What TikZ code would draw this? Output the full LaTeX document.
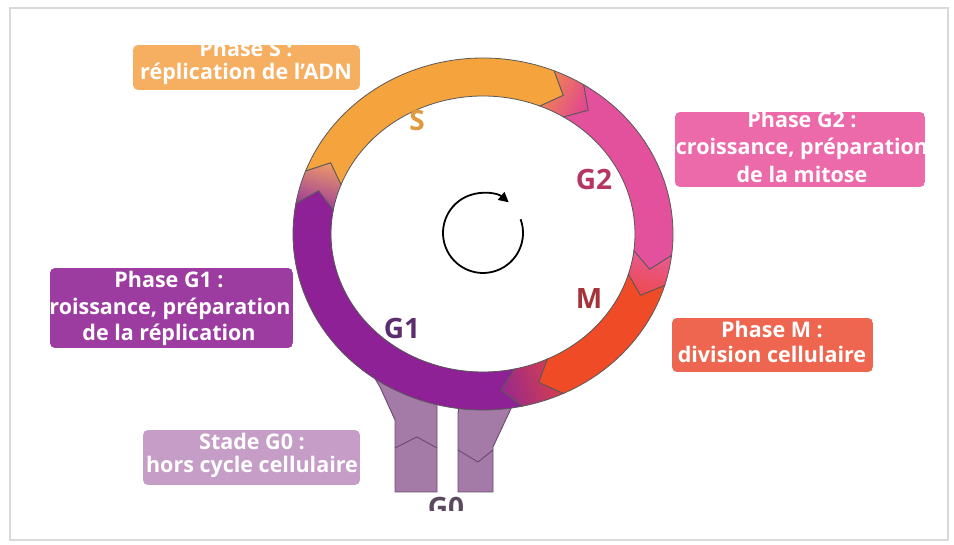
\documentclass[tikz,border=0pt]{standalone}
\usepackage{fontspec}
\setmainfont{Open Sans}
\usetikzlibrary{arrows.meta}
\definecolor{purpleG1}{HTML}{8E2195}
\definecolor{orangeS}{HTML}{F5A33C}
\definecolor{pinkG2}{HTML}{E3509C}
\definecolor{redM}{HTML}{EE4B26}
\definecolor{boxS}{HTML}{F6AE60}
\definecolor{boxGtwo}{HTML}{EC6AAA}
\definecolor{boxGone}{HTML}{9C3CA0}
\definecolor{boxM}{HTML}{EE6650}
\definecolor{boxGzero}{HTML}{C59DC6}
\definecolor{legfill}{HTML}{A47AA6}
\definecolor{legline}{HTML}{6A4A6E}
\definecolor{txtS}{HTML}{DE9A3E}
\definecolor{txtGtwo}{HTML}{B53663}
\definecolor{txtM}{HTML}{A3343A}
\definecolor{txtGone}{HTML}{5B2D6E}
\definecolor{txtGzero}{HTML}{5B4A5E}
\definecolor{trGone}{HTML}{9A3A9A}
\definecolor{trS}{HTML}{E8966A}
\definecolor{trSb}{HTML}{F08A4E}
\definecolor{trGtwo}{HTML}{E2488E}
\definecolor{trGtwob}{HTML}{E65A95}
\definecolor{trM}{HTML}{EE4A50}
\definecolor{trMb}{HTML}{D8404A}
\definecolor{trGoneb}{HTML}{9A2A8A}
\def\cx{483}
\def\cy{311}
\newcommand{\ringseg}[3]{%
  \path[#3] ({\cx+190*cos(#1)},{\cy+176*sin(#1)})
    arc[start angle=#1, end angle=#2, x radius=190, y radius=176]
    -- ({\cx+171*cos(#2-6)},{\cy+157*sin(#2-6)})
    -- ({\cx+152*cos(#2)},{\cy+138*sin(#2)})
    arc[start angle=#2, end angle=#1, x radius=152, y radius=138]
    -- ({\cx+171*cos(#1-6)},{\cy+157*sin(#1-6)}) -- cycle;}
\tikzset{
  ringline/.style={draw=black!65, line width=0.8pt},
  boxtext/.style={text=white, font=\bfseries\fontsize{21.5}{25}\selectfont, anchor=base, inner sep=0pt},
  phaselabel/.style={font=\bfseries\fontsize{28}{32}\selectfont, inner sep=0pt},
  leg/.style={fill=legfill, draw=legline, line width=0.9pt},
  zig/.style={draw=legline, line width=0.9pt},
}
\begin{document}
\begin{tikzpicture}[x=1pt,y=1pt]
\useasboundingbox (0,0) rectangle (954,545);
\fill[white] (0,0) rectangle (954,545);
\draw[black!15, line width=2.5pt] (10,5) rectangle (948,537);

% G0 legs (behind ring)
\path[leg] (368,178) -- (380,158) -- (395,125) -- (395,53) -- (437,53) -- (437,165) -- cycle;
\path[leg] (463,160) -- (458,132) -- (458,53) -- (493,53) -- (493,98) -- (522,160) -- cycle;
\draw[zig] (395,97) -- (417,108) -- (437,97);
\draw[zig] (458,95) -- (478,83) -- (493,95);

% ring segments
\ringseg{-78}{-190}{ringline, fill=purpleG1}
\ringseg{-190}{-201}{ringline, top color=trS, bottom color=trGone, shading angle=-15.5}
\ringseg{159}{68}{ringline, fill=orangeS}
\ringseg{68}{58}{ringline, top color=trGtwo, bottom color=trSb, shading angle=243}
\ringseg{58}{-7}{ringline, fill=pinkG2}
\ringseg{-7}{-17}{ringline, top color=trM, bottom color=trGtwob, shading angle=168}
\ringseg{-17}{-65}{ringline, fill=redM}
\ringseg{-65}{-78}{ringline, top color=trGoneb, bottom color=trMb, shading angle=108.5}

% phase letters on ring
\node[phaselabel, text=txtS] (lS) at (417,424) {S};
\node[phaselabel, text=txtGtwo] (lG2) at (594,365) {G2};
\node[phaselabel, text=txtM] (lM) at (589,246) {M};
\node[phaselabel, text=txtGone] (lG1) at (402,216) {G1};

% central circular arrow
\draw[line width=1.8pt, -{Triangle[length=10pt,width=10pt]}] (520.6,325.7) arc[start angle=20, end angle=-310, radius=40];

% G0 label (cut)
\begin{scope}
\clip (400,34) rectangle (500,60);
\node[phaselabel, text=txtGzero, anchor=base] (lG0) at (446,27) {G0};
\end{scope}

% box S
\begin{scope}
\clip[rounded corners=5pt] (133,455) rectangle (360,500);
\fill[boxS] (133,455) rectangle (360,500);
\node[boxtext] (s1) at (246,488) {Phase S :};
\node[boxtext] (s2) at (246,465) {réplication de l’ADN};
\end{scope}

% box G2
\begin{scope}
\clip[rounded corners=5pt] (675,358) rectangle (925,433);
\fill[boxGtwo] (675,358) rectangle (925,433);
\node[boxtext] (g21) at (802,417) {Phase G2 :};
\node[boxtext] (g22) at (802,390) {croissance, préparation};
\node[boxtext] (g23) at (802,362) {de la mitose};
\end{scope}

% box G1
\begin{scope}
\clip[rounded corners=5pt] (50,197) rectangle (293,277);
\fill[boxGone] (50,197) rectangle (293,277);
\node[boxtext] (g11) at (169,257) {Phase G1 :};
\node[boxtext] (g12) at (170,230) {roissance, préparation};
\node[boxtext] (g13) at (169,204) {de la réplication};
\end{scope}

% box M
\begin{scope}
\clip[rounded corners=5pt] (672,173) rectangle (873,227);
\fill[boxM] (672,173) rectangle (873,227);
\node[boxtext] (m1) at (772,207) {Phase M :};
\node[boxtext] (m2) at (772,182) {division cellulaire};
\end{scope}

% box G0
\begin{scope}
\clip[rounded corners=5pt] (143,60) rectangle (360,115);
\fill[boxGzero] (143,60) rectangle (360,115);
\node[boxtext] (g01) at (252,95) {Stade G0 :};
\node[boxtext] (g02) at (252,72) {hors cycle cellulaire};
\end{scope}
\end{tikzpicture}
\end{document}
